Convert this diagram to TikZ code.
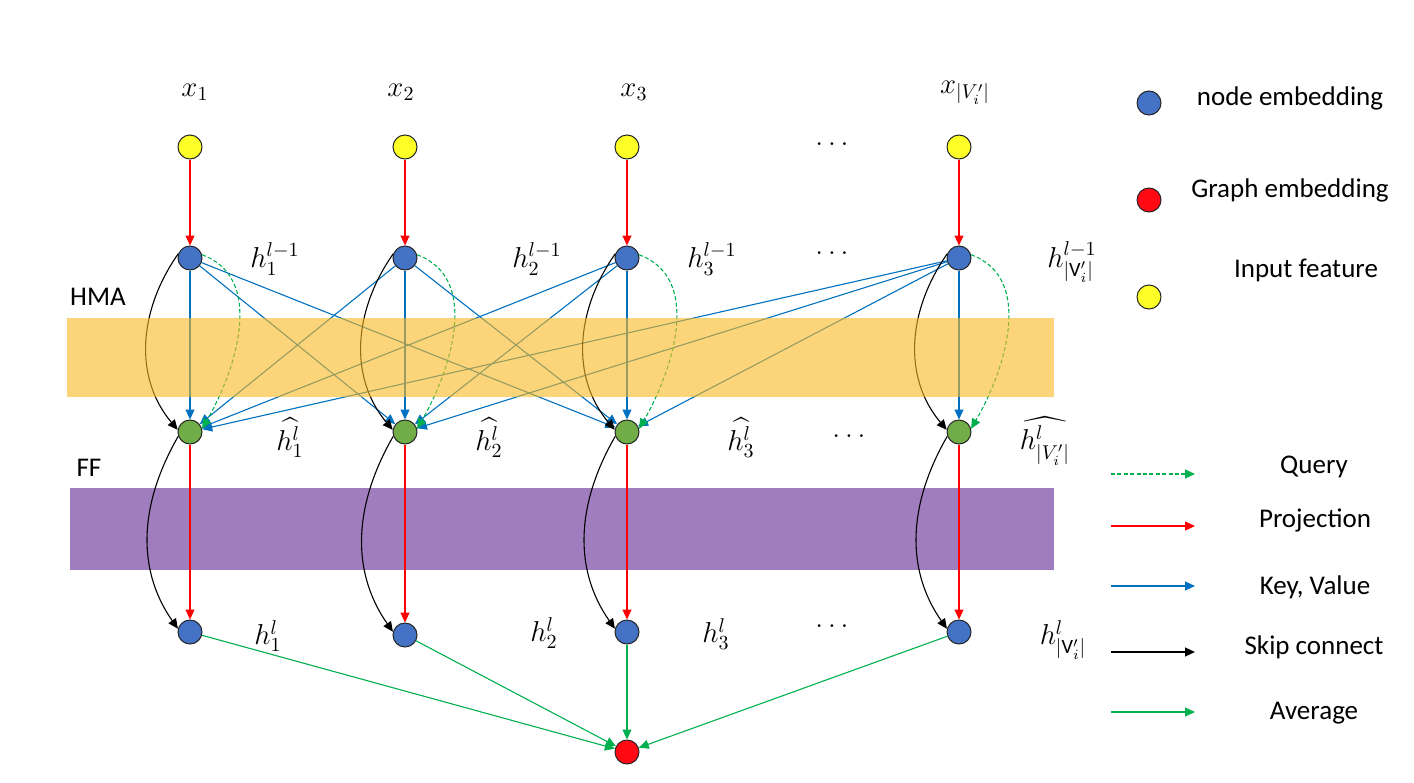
\documentclass[tikz,border=0pt]{standalone}
\usepackage{amsmath}
\usepackage{fontspec}
\setmainfont{Carlito}
\usetikzlibrary{arrows.meta,calc,positioning}

\definecolor{embblue}{RGB}{68,114,196}
\definecolor{embgreen}{RGB}{112,173,71}
\definecolor{embred}{RGB}{255,10,20}
\definecolor{embyellow}{RGB}{255,255,40}
\definecolor{kvblue}{RGB}{0,112,192}
\definecolor{avggreen}{RGB}{0,176,80}
\definecolor{hmaband}{RGB}{250,185,33}
\definecolor{ffband}{RGB}{160,125,190}

\begin{document}
\begin{tikzpicture}[
    x=0.5pt, y=0.5pt,
    >={Triangle[length=5pt,width=4.5pt]},
    every node/.style = {font=\fontsize{13.5}{16}\selectfont},
    emb/.style  = {circle, draw=black!85, line width=0.5pt,
                   minimum size=12pt, inner sep=0pt},
    nemb/.style = {emb, fill=embblue},
    hemb/.style = {emb, fill=embgreen},
    gemb/.style = {emb, fill=embred},
    inp/.style  = {emb, fill=embyellow},
    lbl/.style  = {font=\fontsize{14.5}{17}\selectfont},
    conn/.style = {line width=0.55pt, ->},
    proj/.style = {conn, red},
    kv/.style   = {conn, kvblue},
    qry/.style  = {conn, avggreen, dash pattern=on 2pt off 1.2pt},
    skip/.style = {conn, black},
    avg/.style  = {conn, avggreen}
  ]
  \useasboundingbox (0,0) rectangle (1414,-782);

  %–––– FF band (under the arrows) ––––
  \fill[ffband] (70,-488) rectangle (1054,-570);

  %–––– columns of embeddings ––––
  \foreach \i/\x/\yb in {1/190/632, 2/405/635, 3/627/632, v/959/632} {
    \node[inp]  (in\i) at (\x,-147) {};
    \node[nemb] (hp\i) at (\x,-258) {};
    \node[hemb] (ha\i) at (\x,-432) {};
    \node[nemb] (h\i)  at (\x,-\yb) {};
  }
  \node[gemb] (G) at (627,-752) {};

  %–––– projection ––––
  \foreach \i in {1,2,3,v} {
    \draw[proj] (in\i) -- (hp\i);
    \draw[proj] (ha\i) -- (h\i);
  }

  %–––– key, value ––––
  \foreach \s in {1,2,3,v}
    \foreach \t in {1,2,3}
      \draw[kv] (hp\s) -- (ha\t);
  \draw[kv] (hpv) -- (hav);

  %–––– query & skip connections ––––
  \foreach \i in {1,2,3,v} {
    \draw[qry]  (hp\i.15) to[out=-20,in=60] (ha\i.15);
    \draw[skip] (hp\i.160) to[out=235,in=130] (ha\i.170);
    \draw[skip] (ha\i.200) to[out=240,in=125] (h\i.165);
  }

  %–––– average ––––
  \foreach \i in {1,2,3,v}
    \draw[avg] (h\i) -- (G);

  %–––– HMA band (over the arrows) ––––
  \fill[hmaband, fill opacity=0.6] (67,-318) rectangle (1054,-397);

  \node (hma) at (98,-297) {HMA};
  \node (ff)  at (89,-468) {FF};

  %–––– labels ––––
  \node[lbl] (lx1) at (195,-92) {$x_1$};
  \node[lbl] (lx2) at (401,-92) {$x_2$};
  \node[lbl] (lx3) at (634,-92) {$x_3$};
  \node[lbl] (lxv) at (965,-93) {$x_{|V_i'|}$};

  \node[lbl] (lp1) at (275,-259) {$h_1^{l-1}$};
  \node[lbl] (lp2) at (537,-259) {$h_2^{l-1}$};
  \node[lbl] (lp3) at (712,-259) {$h_3^{l-1}$};
  \node[lbl] (lpv) at (1072,-262) {$h_{|\mathrm{V}_i'|}^{l-1}$};

  \node[lbl] (la1) at (290,-438) {$\widehat{h_1^l}$};
  \node[lbl] (la2) at (489,-438) {$\widehat{h_2^l}$};
  \node[lbl] (la3) at (741,-438) {$\widehat{h_3^l}$};
  \node[lbl] (lav) at (1045,-441) {$\widehat{h_{|V_i'|}^l}$};

  \node[lbl] (lh1) at (268,-636) {$h_1^l$};
  \node[lbl] (lh2) at (544,-633) {$h_2^l$};
  \node[lbl] (lh3) at (716,-634) {$h_3^l$};
  \node[lbl] (lhv) at (1063,-640) {$h_{|\mathrm{V}_i'|}^l$};

  \node[lbl] (d1) at (832,-144) {$\ldots$};
  \node[lbl] (d2) at (832,-253) {$\ldots$};
  \node[lbl] (d3) at (849,-436) {$\ldots$};
  \node[lbl] (d4) at (832,-626) {$\ldots$};

  %–––– legend ––––
  \node[nemb] (kn) at (1149,-103) {};
  \node[gemb] (kg) at (1149,-200) {};
  \node[inp]  (ki) at (1149,-297) {};
  \node (tn) at (1290,-98)  {node embedding};
  \node (tg) at (1290,-190) {Graph embedding};
  \node (ti) at (1306,-270) {Input feature};

  \foreach \s/\y in {qry/474, proj/526, kv/586, skip/652, avg/712} {
    \coordinate (\s0) at (1111,-\y);
    \coordinate (\s1) at (1195,-\y);
    \draw[\s] (\s0) -- (\s1);
  }
  \node (tq) at (1314,-467) {Query};
  \node (tp) at (1315,-520) {Projection};
  \node (tk) at (1315,-587) {Key, Value};
  \node (ts) at (1314,-647) {Skip connect};
  \node (ta) at (1314,-713) {Average};

\end{tikzpicture}
\end{document}
